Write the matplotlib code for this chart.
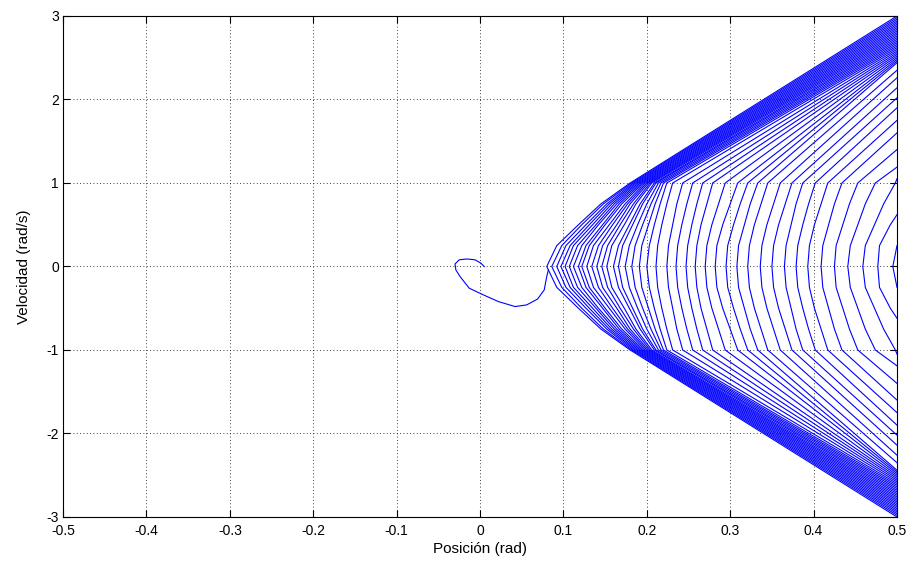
import matplotlib.pyplot as plt
import numpy as np

# Phase portrait (Posición vs Velocidad)

# transient spiral near the origin
spiral_x = [0.005, 0.001, -0.006, -0.016, -0.025, -0.030, -0.029, -0.024, -0.013,
            0.004, 0.022, 0.042, 0.056, 0.069, 0.077, 0.080, 0.082]
spiral_y = [0.00, 0.04, 0.08, 0.09, 0.08, 0.03, -0.04, -0.12, -0.26,
            -0.34, -0.42, -0.48, -0.46, -0.39, -0.28, -0.12, -0.04]

# chevron curves: x where each one crosses |y| = 0, 0.25, 0.5, 0.75, 1
vertex_x = [0.080, 0.086, 0.092, 0.097, 0.102, 0.107, 0.112, 0.118, 0.122, 0.128,
            0.134, 0.140, 0.146, 0.152, 0.160, 0.166, 0.174, 0.182, 0.191, 0.200,
            0.211, 0.224, 0.235, 0.247, 0.258, 0.270, 0.282, 0.295, 0.308, 0.321,
            0.336, 0.350, 0.365, 0.379, 0.393, 0.409, 0.425, 0.441, 0.459, 0.477,
            0.495]
x_quarter = [0.092, 0.098, 0.103, 0.108, 0.112, 0.117, 0.122, 0.127, 0.131, 0.136,
             0.142, 0.147, 0.153, 0.158, 0.166, 0.171, 0.179, 0.186, 0.194, 0.203,
             0.213, 0.226, 0.237, 0.249, 0.260, 0.272, 0.284, 0.297, 0.310, 0.323,
             0.338, 0.352, 0.367, 0.381, 0.395, 0.411, 0.427, 0.444, 0.462, 0.479,
             np.nan]
x_half = [0.118, 0.122, 0.127, 0.131, 0.135, 0.139, 0.142, 0.147, 0.150, 0.155,
          0.159, 0.164, 0.168, 0.173, 0.179, 0.183, 0.189, 0.195, 0.202, 0.209,
          0.218, 0.231, 0.242, 0.254, 0.265, 0.278, 0.291, 0.304, 0.317, 0.329,
          0.344, 0.358, 0.373, 0.387, 0.401, 0.418, 0.435, 0.453, 0.473, 0.492,
          np.nan]
x_3quarter = [0.145, 0.148, 0.152, 0.155, 0.158, 0.161, 0.164, 0.167, 0.170, 0.174,
              0.177, 0.180, 0.184, 0.187, 0.192, 0.195, 0.200, 0.205, 0.210, 0.216,
              0.224, 0.236, 0.248, 0.260, 0.272, 0.286, 0.300, 0.312, 0.324, 0.337,
              0.352, 0.366, 0.379, 0.394, 0.409, 0.425, 0.443, 0.462, 0.484, np.nan,
              np.nan]
x_one = [0.180, 0.182, 0.184, 0.186, 0.188, 0.190, 0.192, 0.194, 0.196, 0.198,
         0.200, 0.202, 0.204, 0.206, 0.209, 0.211, 0.214, 0.217, 0.220, 0.224,
         0.231, 0.243, 0.255, 0.267, 0.279, 0.294, 0.309, 0.321, 0.333, 0.345,
         0.360, 0.374, 0.387, 0.402, 0.417, 0.434, 0.453, 0.474, 0.498, np.nan,
         np.nan]
# |velocity| where each arm leaves through the right edge (x = 0.5)
exit_y = [3.00, 2.98, 2.96, 2.94, 2.92, 2.90, 2.88, 2.86, 2.84, 2.82,
          2.80, 2.78, 2.76, 2.74, 2.72, 2.70, 2.68, 2.66, 2.64, 2.62,
          2.60, 2.58, 2.56, 2.54, 2.52, 2.50, 2.48, 2.46, 2.44, 2.35,
          2.26, 2.14, 2.02, 1.90, 1.75, 1.60, 1.40, 1.19, 1.05, 0.62,
          0.25]

x_edge = 0.5
levels = [0.0, 0.25, 0.5, 0.75, 1.0]

plt.rcParams['font.family'] = ['Liberation Sans', 'DejaVu Sans']
plt.rcParams['font.size'] = 10

fig = plt.figure(figsize=(9.14, 5.71), dpi=100)
ax = fig.add_axes([0.069, 0.0946, 0.9124, 0.8774])

blue = '#0000ff'

for i in range(len(vertex_x)):
    cols = [vertex_x[i], x_quarter[i], x_half[i], x_3quarter[i], x_one[i]]
    arm_x = []
    arm_y = []
    for xv, yv in zip(cols, levels):
        if not np.isnan(xv) and yv < exit_y[i]:
            arm_x.append(xv)
            arm_y.append(yv)
    arm_x.append(x_edge)
    arm_y.append(exit_y[i])
    # lower arm mirrored, then upper arm
    px = arm_x[::-1] + arm_x[1:]
    py = [-v for v in arm_y[::-1]] + arm_y[1:]
    ax.plot(px, py, color=blue, lw=0.8)

ax.plot(spiral_x, spiral_y, color=blue, lw=0.8)

ax.set_xlim(-0.5, 0.5)
ax.set_ylim(-3, 3)
ax.set_xticks(np.arange(-0.5, 0.51, 0.1))
ax.set_xticklabels(['-0.5', '-0.4', '-0.3', '-0.2', '-0.1', '0', '0.1', '0.2', '0.3', '0.4', '0.5'])
ax.set_yticks(np.arange(-3, 4, 1))
ax.set_yticklabels(['-3', '-2', '-1', '0', '1', '2', '3'])

ax.grid(True, color='black', linestyle=(0, (1, 3)), linewidth=0.6)
ax.tick_params(direction='in', length=5, width=0.8, top=True, right=True,
               labelsize=10, pad=3)
ax.tick_params(axis='x', pad=5)
for s in ax.spines.values():
    s.set_linewidth(0.8)

ax.set_xlabel('Posición (rad)', fontsize=11, labelpad=3)
ax.set_ylabel('Velocidad (rad/s)', fontsize=11, labelpad=11)

fig.savefig('out.png', dpi=100)
